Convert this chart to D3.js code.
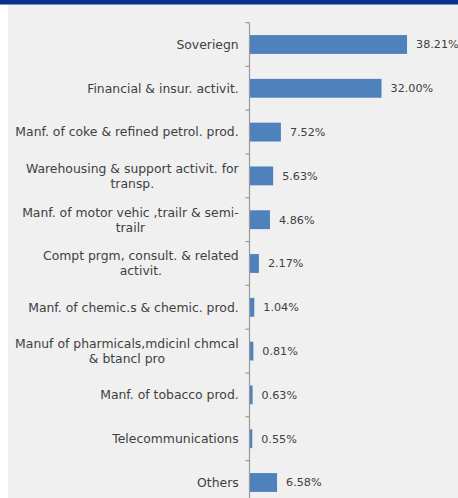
<!DOCTYPE html>
<html>
<head>
<meta charset="utf-8">
<script src="https://cdn.jsdelivr.net/npm/d3@7"></script>
<style>
  html, body { margin: 0; padding: 0; background: #ffffff; }
  svg { display: block; }
</style>
</head>
<body>
<svg id="chart" width="458" height="498"></svg>
<script>
// Sector exposure (% of portfolio), top to bottom
const categories = [
  "Soveriegn",
  "Financial & insur. activit.",
  "Manf. of coke & refined petrol. prod.",
  "Warehousing & support activit. for\ntransp.",
  "Manf. of motor vehic ,trailr & semi-\ntrailr",
  "Compt prgm, consult. & related\nactivit.",
  "Manf. of chemic.s & chemic. prod.",
  "Manuf of pharmicals,mdicinl chmcal\n& btancl pro",
  "Manf. of tobacco prod.",
  "Telecommunications",
  "Others"
];
const values = [38.21, 32.00, 7.52, 5.63, 4.86, 2.17, 1.04, 0.81, 0.63, 0.55, 6.58];
const xDomain = [0, 45];

const svg = d3.select("#chart");
const W = 458, H = 498;

// panel background and top banner
svg.append("rect").attr("x", 8).attr("y", 0).attr("width", W - 8).attr("height", H).attr("fill", "#f0f0f0");
svg.append("rect").attr("x", 0).attr("y", 0).attr("width", W).attr("height", 4.5).attr("fill", "#06308e");

const axisX = 249.5;
const x = d3.scaleLinear().domain(xDomain).range([250, 250 + 45 * 4.11]);
const y = d3.scaleBand().domain(categories).range([22.6, 22.6 + 11 * 43.8]).paddingInner(0.57).paddingOuter(0.285);

const data = categories.map((c, i) => ({ cat: c, value: values[i] }));

// bars
svg.append("g").selectAll("rect").data(data).join("rect")
  .attr("x", x(0))
  .attr("y", d => y(d.cat))
  .attr("width", d => x(d.value) - x(0))
  .attr("height", y.bandwidth())
  .attr("fill", "#4f81bd");

// category axis line with ticks at band boundaries
const step = y.step();
const boundaries = categories.map((c, i) => y.range()[0] + i * step);
const axisG = svg.append("g");
axisG.append("line")
  .attr("x1", axisX).attr("x2", axisX)
  .attr("y1", y.range()[0]).attr("y2", H)
  .attr("stroke", "#9a9a9a").attr("stroke-width", 1.2);
axisG.selectAll("line.tick").data(boundaries).join("line")
  .attr("class", "tick")
  .attr("x1", axisX - 4).attr("x2", axisX)
  .attr("y1", d => d).attr("y2", d => d)
  .attr("stroke", "#9a9a9a").attr("stroke-width", 1.2);

// category labels: block right-aligned to the axis, wrapped lines centred
const labelRight = 238.7;
const labelG = svg.append("g")
  .attr("font-family", "'DejaVu Sans', sans-serif")
  .attr("font-size", 12.4)
  .attr("fill", "#404040");
const lineH = 15;
labelG.selectAll("text").data(data).join("text")
  .each(function (d) {
    const lines = d.cat.split("\n");
    const cy = y(d.cat) + y.bandwidth() / 2;
    const t = d3.select(this);
    const spans = lines.map((ln, k) =>
      t.append("tspan")
        .attr("y", cy + (k - (lines.length - 1) / 2) * lineH)
        .attr("dy", "0.35em")
        .text(ln));
    const maxW = d3.max(spans, s => s.node().getComputedTextLength());
    t.attr("text-anchor", "middle");
    spans.forEach(s => s.attr("x", labelRight - maxW / 2));
  });

// value labels
const fmt = d3.format(".2f");
svg.append("g")
  .attr("font-family", "'DejaVu Sans', sans-serif")
  .attr("font-size", 11.2)
  .attr("fill", "#404040")
  .selectAll("text").data(data).join("text")
  .attr("x", d => x(d.value) + 9)
  .attr("y", d => y(d.cat) + y.bandwidth() / 2)
  .attr("dy", "0.35em")
  .text(d => fmt(d.value) + "%");
</script>
</body>
</html>
